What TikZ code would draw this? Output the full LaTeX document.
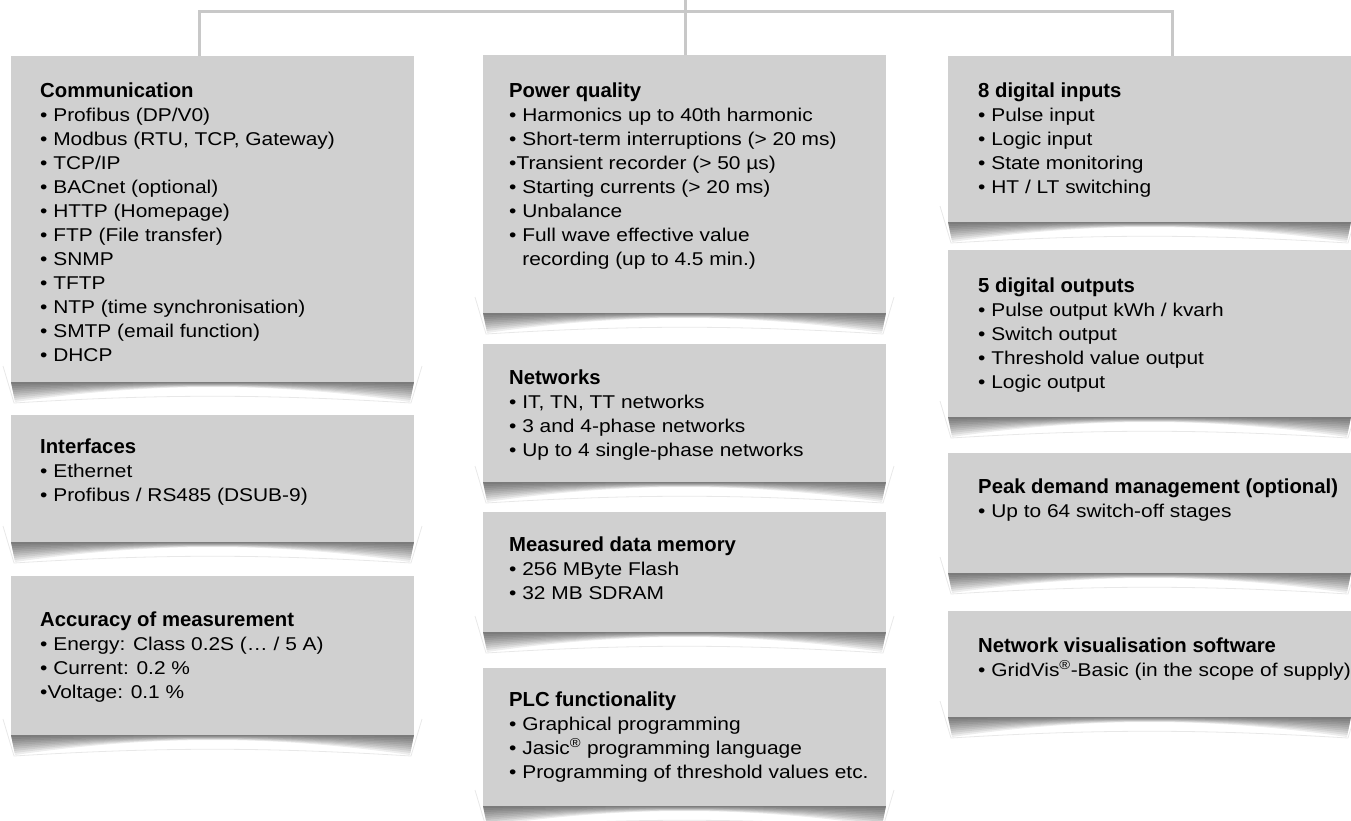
\documentclass[tikz,border=0pt]{standalone}
\usepackage{fontspec}
\setmainfont{Liberation Sans}[FakeStretch=1.13]
\newfontfamily\headfont{Liberation Sans}
\definecolor{boxgray}{RGB}{208,208,208}
\definecolor{linkgray}{RGB}{200,200,200}
\newcommand{\ttl}[1]{{\headfont\bfseries\fontsize{20.3}{24}\selectfont #1}}
\begin{document}
\begin{tikzpicture}[x=1pt,y=-1pt,
  box/.style={fill=boxgray, inner sep=0, anchor=north west, minimum width=403pt},
  txt/.style={anchor=north west, inner sep=0, align=left, font=\fontsize{18.5}{24}\selectfont},
  link/.style={draw=linkgray, line width=3pt}]
\useasboundingbox (0,0) rectangle (1351,821);
\clip (0,0) rectangle (1351,821);
% boxes and their shadows
\foreach \n/\x/\t/\b in {comm/11/56/382, intf/11/415/542, accu/11/576/735,
    pq/483/55/313, netw/483/344/482, memo/483/512/632, plc/483/668/806,
    din/948/56/222, dout/948/250/417, peak/948/453/573, vis/948/611/717}
{
    \draw[black!9, line width=.8pt] (\x-8,\b-16) -- (\x+3,\b+21) .. controls (\x+150,\b+12) and (\x+253,\b+12) .. (\x+400,\b+21) -- (\x+411,\b-16);
    \foreach \k in {2,4,...,20}
      \fill[black, opacity=.07] (\x,\b) -- (\x+403,\b) -- (\x+403-\k/5,\b+\k) .. controls (\x+260,\b) and (\x+143,\b) .. (\x+\k/5,\b+\k) -- cycle;
    \node[box, minimum height=\b pt-\t pt] (\n) at (\x,\t) {};
}
% connector
\coordinate (top) at (685,0);
\coordinate (jl) at (199,12);
\coordinate (jr) at (1172,12);
\draw[link] (top) -- (top |- pq.north);
\draw[link] (jl |- comm.north) -- (jl) -- (jr) -- (jr |- din.north);
% left column
\node[txt] (commtxt) at (40,82) {\rule{0pt}{15pt}\ttl{Communication}\\
  • Profibus (DP/V0)\\ • Modbus (RTU, TCP, Gateway)\\ • TCP/IP\\
  • BACnet (optional)\\ • HTTP (Homepage)\\ • FTP (File transfer)\\
  • SNMP\\ • TFTP\\ • NTP (time synchronisation)\\ • SMTP (email function)\\ • DHCP};
\node[txt] (intftxt) at (40,438) {\rule{0pt}{15pt}\ttl{Interfaces}\\
  • Ethernet\\ • Profibus / RS485 (DSUB-9)};
\node[txt] (accutxt) at (40,611) {\rule{0pt}{15pt}\ttl{Accuracy of measurement}\\
  • Energy: Class 0.2S (… / 5 A)\\ • Current: 0.2 \%\\ •Voltage: 0.1 \%};
% middle column
\node[txt] (pqtxt) at (509,82) {\rule{0pt}{15pt}\ttl{Power quality}\\
  • Harmonics up to 40th harmonic\\ • Short-term interruptions (> 20 ms)\\
  •Transient recorder (> 50 µs)\\ • Starting currents (> 20 ms)\\ • Unbalance\\
  • Full wave effective value\\ \phantom{• }recording (up to 4.5 min.)};
\node[txt] (netwtxt) at (509,369) {\rule{0pt}{15pt}\ttl{Networks}\\
  • IT, TN, TT networks\\ • 3 and 4-phase networks\\ • Up to 4 single-phase networks};
\node[txt] (memotxt) at (509,536) {\rule{0pt}{15pt}\ttl{Measured data memory}\\
  • 256 MByte Flash\\ • 32 MB SDRAM};
\node[txt] (plctxt) at (509,691) {\rule{0pt}{15pt}\ttl{PLC functionality}\\
  • Graphical programming\\ • Jasic\textsuperscript{®} programming language\\
  • Programming of threshold values etc.};
% right column
\node[txt] (dintxt) at (978,82) {\rule{0pt}{15pt}\ttl{8 digital inputs}\\
  • Pulse input\\ • Logic input\\ • State monitoring\\ • HT / LT switching};
\node[txt] (douttxt) at (978,277) {\rule{0pt}{15pt}\ttl{5 digital outputs}\\
  • Pulse output kWh / kvarh\\ • Switch output\\ • Threshold value output\\ • Logic output};
\node[txt] (peaktxt) at (978,478) {\rule{0pt}{15pt}\ttl{Peak demand management (optional)}\\
  • Up to 64 switch-off stages};
\node[txt] (vistxt) at (978,637) {\rule{0pt}{15pt}\ttl{Network visualisation software}\\
  • GridVis\textsuperscript{®}-Basic (in the scope of supply)};
\end{tikzpicture}
\end{document}
